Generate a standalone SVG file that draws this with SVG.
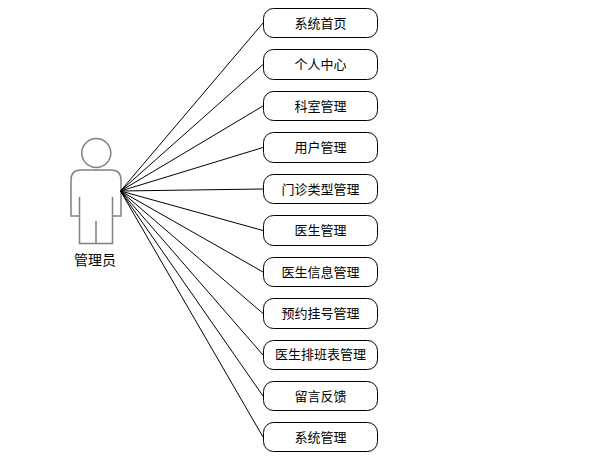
<svg xmlns="http://www.w3.org/2000/svg" width="603" height="463" viewBox="0 0 603 463">
<style>
.c{stroke:#000;stroke-width:1;fill:none}
.b{fill:#fff;stroke:#000;stroke-width:1}
.a{fill:#fff;stroke:#808080;stroke-width:1.500}
text{font-family:"Noto Sans CJK SC","Liberation Sans",sans-serif;font-size:13px;text-anchor:middle;fill:#000}
.l{font-size:14px}
</style>
<rect width="603" height="463" fill="#fff"/>
<g id="actor">
<circle class="a" cx="96.300" cy="153" r="14.500"/>
<path class="a" d="M79.500 216H71V180Q71 170 81 170H111Q121 170 121 180V216H112.500M79.500 197V243.500H112.500V197M96 221V243.500"/>
<text class="l" x="95" y="265">管理员</text>
</g>
<g id="connectors">
<line class="c" x1="120.500" y1="191" x2="263" y2="23"/>
<line class="c" x1="120.500" y1="191" x2="263" y2="64.500"/>
<line class="c" x1="120.500" y1="191" x2="263" y2="106"/>
<line class="c" x1="120.500" y1="191" x2="263" y2="147.500"/>
<line class="c" x1="120.500" y1="191" x2="263" y2="189"/>
<line class="c" x1="120.500" y1="191" x2="263" y2="230.500"/>
<line class="c" x1="120.500" y1="191" x2="263" y2="272"/>
<line class="c" x1="120.500" y1="191" x2="263" y2="313.500"/>
<line class="c" x1="120.500" y1="191" x2="263" y2="355"/>
<line class="c" x1="120.500" y1="191" x2="263" y2="396"/>
<line class="c" x1="120.500" y1="191" x2="263" y2="437"/>
</g>
<g id="n1"><rect class="b" x="263.500" y="8.500" width="114" height="29" rx="10"/><text x="320.500" y="28">系统首页</text></g>
<g id="n2"><rect class="b" x="263.500" y="49.500" width="114" height="30" rx="10"/><text x="320.500" y="69">个人中心</text></g>
<g id="n3"><rect class="b" x="263.500" y="91.500" width="114" height="29" rx="10"/><text x="320.500" y="111">科室管理</text></g>
<g id="n4"><rect class="b" x="263.500" y="132.500" width="114" height="30" rx="10"/><text x="320.500" y="152">用户管理</text></g>
<g id="n5"><rect class="b" x="263.500" y="174.500" width="114" height="29" rx="10"/><text x="320.500" y="194">门诊类型管理</text></g>
<g id="n6"><rect class="b" x="263.500" y="215.500" width="114" height="30" rx="10"/><text x="320.500" y="235">医生管理</text></g>
<g id="n7"><rect class="b" x="263.500" y="257.500" width="114" height="29" rx="10"/><text x="320.500" y="277">医生信息管理</text></g>
<g id="n8"><rect class="b" x="263.500" y="298.500" width="114" height="30" rx="10"/><text x="320.500" y="318">预约挂号管理</text></g>
<g id="n9"><rect class="b" x="263.500" y="340.500" width="114" height="29" rx="10"/><text x="320.500" y="359">医生排班表管理</text></g>
<g id="n10"><rect class="b" x="263.500" y="381.500" width="114" height="29" rx="10"/><text x="320.500" y="401">留言反馈</text></g>
<g id="n11"><rect class="b" x="263.500" y="422.500" width="114" height="29" rx="10"/><text x="320.500" y="442">系统管理</text></g>
</svg>
